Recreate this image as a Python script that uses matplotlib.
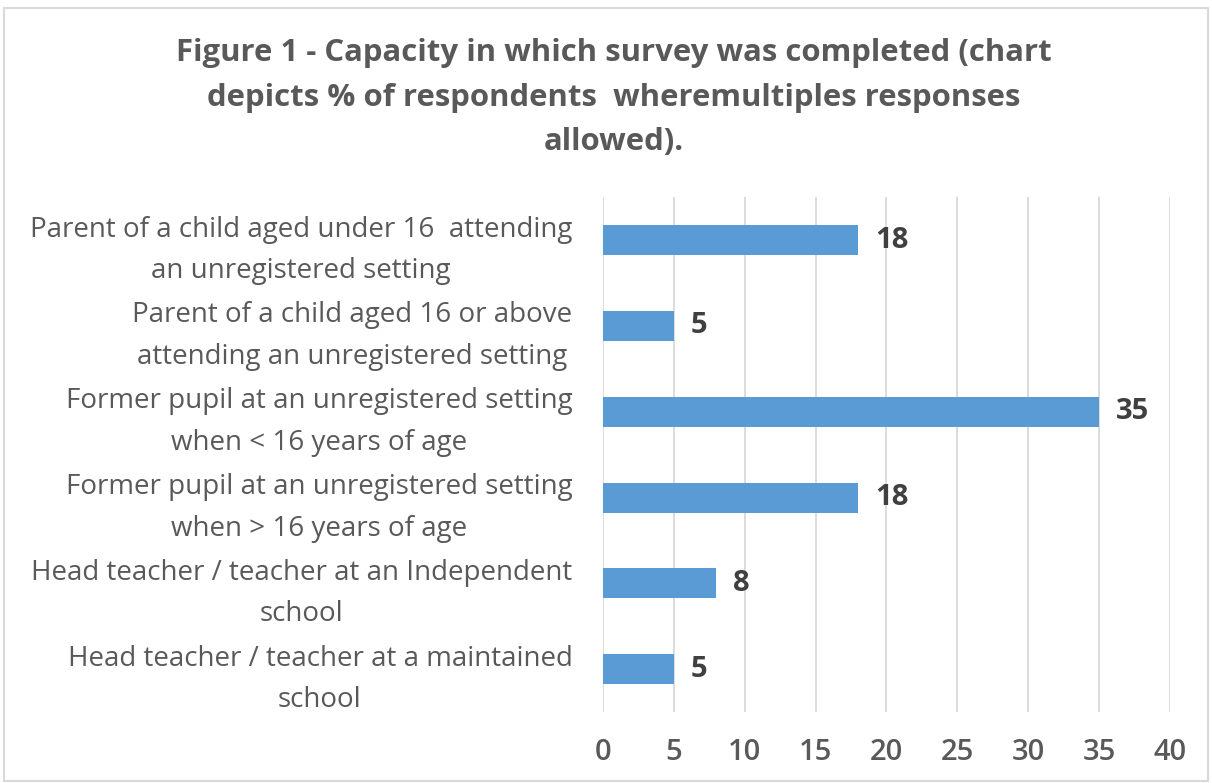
import matplotlib
matplotlib.use("Agg")
import matplotlib.pyplot as plt
from matplotlib.patches import Rectangle

categories = [
    "Parent of a child aged under 16  attending\nan unregistered setting",
    "Parent of a child aged 16 or above\nattending an unregistered setting",
    "Former pupil at an unregistered setting\nwhen < 16 years of age",
    "Former pupil at an unregistered setting\nwhen > 16 years of age",
    "Head teacher / teacher at an Independent\nschool",
    "Head teacher / teacher at a maintained\nschool",
]
values = [18, 5, 35, 18, 8, 5]
xticks = [0, 5, 10, 15, 20, 25, 30, 35, 40]
title = ("Figure 1 - Capacity in which survey was completed (chart\n"
         "depicts % of respondents  wheremultiples responses\n"
         "allowed).")

plt.rcParams['font.family'] = ['Open Sans', 'DejaVu Sans']
gray = '#595959'

fig = plt.figure(figsize=(12.12, 7.83), dpi=100)
fig.patches.append(Rectangle((0.003, 0.003), 0.994, 0.987, transform=fig.transFigure,
                             fill=False, edgecolor='#D9D9D9', linewidth=1.5))
ax = fig.add_axes([0.4975, 0.0907, 0.4678, 0.6573])

ypos = list(range(len(categories)))
ax.barh(ypos, values, height=0.35, color='#5B9BD5', zorder=3)
ax.set_ylim(len(categories) - 0.5, -0.5)
ax.set_xlim(0, 40)
ax.set_xticks(xticks)
ax.set_xticklabels([str(t) for t in xticks], fontsize=21, color=gray, fontweight='semibold')
ax.set_yticks(ypos)
ax.set_yticklabels(categories, fontsize=20, color=gray, linespacing=1.65, ha='right')
for lab in ax.get_yticklabels():
    lab.set_multialignment('center')
ax.tick_params(axis='y', length=0, pad=22)
ax.tick_params(axis='x', length=0, pad=19)
ax.grid(axis='x', color='#D9D9D9', linewidth=1.3, zorder=0)
for s in ax.spines.values():
    s.set_visible(False)

for y, v in zip(ypos, values):
    ax.text(v + 1.2, y, str(v), va='center', ha='left', fontsize=21,
            fontweight='bold', color='#404040')

fig.text(0.5066, 0.951, title, ha='center', va='top', fontsize=22.4, fontweight='bold',
         color=gray, linespacing=1.62)

fig.savefig('out.png', dpi=100)
